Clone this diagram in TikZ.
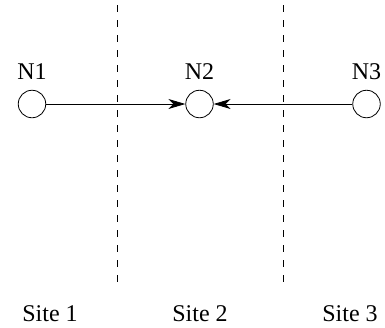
\documentclass[tikz,border=0pt]{standalone}
\usepackage{fontspec}
\setmainfont{Liberation Serif}
\usetikzlibrary{arrows.meta}
\begin{document}
\begin{tikzpicture}[x=1pt,y=-1pt,
  site/.style={circle,draw,line width=0.8pt,minimum size=27.5pt,inner sep=0pt},
  lbl/.style={font=\fontsize{24}{26}\selectfont,anchor=base,inner sep=0pt},
  divider/.style={line width=0.8pt,dash pattern=on 7pt off 8pt},
  link/.style={line width=0.8pt,-{Stealth[length=17pt,width=10pt,inset=5pt]}}]
\useasboundingbox (0,0) rectangle (385,327);
\node[site] (n1) at (32,104) {};
\node[site] (n2) at (199.5,104) {};
\node[site] (n3) at (366.5,104) {};
\node[lbl] (l1) at (32,79.5) {N1};
\node[lbl] (l2) at (199.5,79.5) {N2};
\node[lbl] (l3) at (366.5,79.5) {N3};
\node[lbl] (s1) at (50,321.5) {Site 1};
\node[lbl] (s2) at (200,321.5) {Site 2};
\node[lbl] (s3) at (350,321.5) {Site 3};
\coordinate (d1t) at (117,5);
\coordinate (d1b) at (117,288);
\coordinate (d2t) at (283,5);
\coordinate (d2b) at (283,288);
\draw[divider] (d1t) -- (d1b);
\draw[divider] (d2t) -- (d2b);
\draw[link] (n1) -- (n2);
\draw[link] (n3) -- (n2);
\end{tikzpicture}
\end{document}
